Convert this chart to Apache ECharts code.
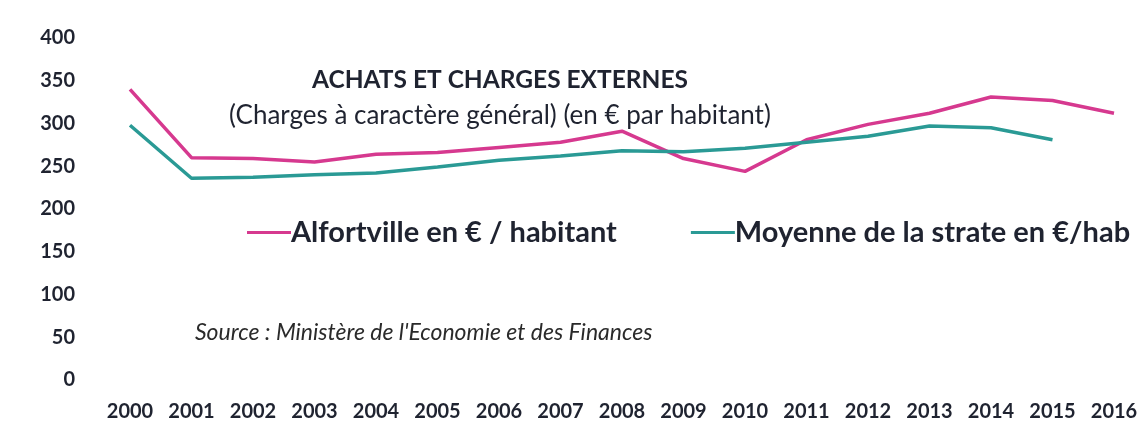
<!DOCTYPE html>
<html>
<head>
<meta charset="utf-8">
<script src="https://cdn.jsdelivr.net/npm/echarts@6/dist/echarts.min.js"></script>
<style>
  html, body { margin: 0; padding: 0; background: #fff; }
  #chart { width: 1142px; height: 425px; }
</style>
</head>
<body>
<div id="chart"></div>
<script>
const years = ['2000','2001','2002','2003','2004','2005','2006','2007','2008',
  '2009','2010','2011','2012','2013','2014','2015','2016'];
const alfortville = [340, 260, 259, 255, 264, 266, 272, 278, 291, 259, 244, 281, 299, 312, 331, 327, 312];
const moyenneStrate = [298, 236, 237, 240, 242, 249, 257, 262, 268, 267, 271, 278, 285, 297, 295, 281];
const yTicks = { min: 0, max: 400, interval: 50 };

const font = 'Lato, "Open Sans", sans-serif';
const chart = echarts.init(document.getElementById('chart'));

chart.setOption({
  animation: false,
  backgroundColor: '#fff',
  textStyle: { fontFamily: font },
  title: [
    {
      text: 'ACHATS ET CHARGES EXTERNES',
      left: 495, top: 63, textAlign: 'center',
      textStyle: { fontSize: 24.5, fontWeight: 'bold', color: '#1f2330', fontFamily: font }
    },
    {
      text: '(Charges à caractère général) (en € par habitant)',
      left: 495, top: 98, textAlign: 'center',
      textStyle: { fontSize: 26, fontWeight: 'normal', color: '#1f2330', fontFamily: font }
    },
    {
      text: "Source : Ministère de l'Economie et des Finances",
      left: 190, top: 316,
      textStyle: { fontSize: 23, fontStyle: 'italic', fontWeight: 'normal', color: '#2a2a2a', fontFamily: font }
    }
  ],
  legend: {
    left: 247, top: 218, width: 1000,
    padding: 0,
    icon: 'rect',
    itemWidth: 44, itemHeight: 3,
    itemGap: 74,
    textStyle: { fontSize: 29, fontWeight: 'bold', color: '#1f2330', padding: [0, 0, 0, -5], fontFamily: font },
    data: ['Alfortville en € / habitant', 'Moyenne de la strate en €/hab']
  },
  grid: { left: 130, right: 28, top: 38, bottom: 45 },
  xAxis: {
    type: 'category',
    data: years,
    boundaryGap: false,
    axisLine: { show: false },
    axisTick: { show: false },
    axisLabel: { margin: 22, fontSize: 20, fontWeight: 'bold', color: '#1f2330', fontFamily: font }
  },
  yAxis: {
    type: 'value',
    min: yTicks.min, max: yTicks.max, interval: yTicks.interval,
    splitLine: { show: false },
    axisLine: { show: false },
    axisTick: { show: false },
    axisLabel: { margin: 55, fontSize: 20, fontWeight: 'bold', color: '#1f2330', fontFamily: font }
  },
  series: [
    {
      name: 'Alfortville en € / habitant',
      type: 'line',
      data: alfortville,
      showSymbol: false,
      itemStyle: { color: '#d6398f' },
      lineStyle: { color: '#d6398f', width: 3.5 }
    },
    {
      name: 'Moyenne de la strate en €/hab',
      type: 'line',
      data: moyenneStrate,
      showSymbol: false,
      itemStyle: { color: '#2a9a95' },
      lineStyle: { color: '#2a9a95', width: 3.5 }
    }
  ]
});
</script>
</body>
</html>
